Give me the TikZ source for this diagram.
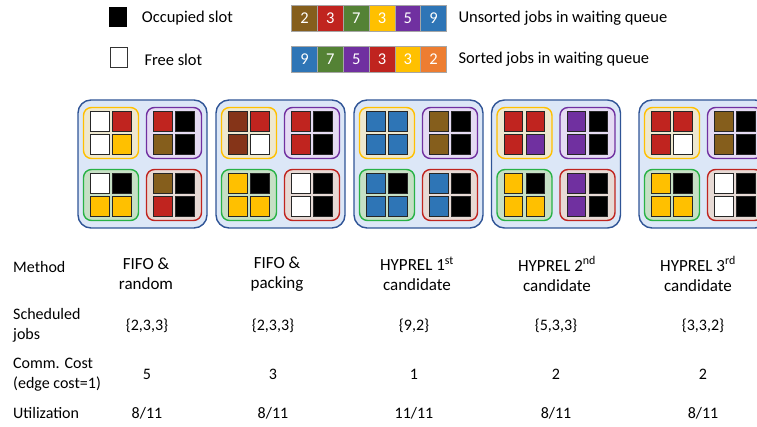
\documentclass[tikz,border=0pt]{standalone}
\usepackage{fontspec}
\setmainfont{Carlito}
\usetikzlibrary{positioning}

%% job colours
\definecolor{jobbrown}{RGB}{133,94,28}
\definecolor{jobrust}{RGB}{133,52,24}
\definecolor{jobred}{RGB}{192,36,31}
\definecolor{jobgreen}{RGB}{84,130,53}
\definecolor{jobyellow}{RGB}{255,192,0}
\definecolor{jobpurple}{RGB}{112,48,160}
\definecolor{jobblue}{RGB}{46,117,182}
\definecolor{joborange}{RGB}{237,125,49}
%% rack and server colours
\definecolor{rackline}{RGB}{47,84,150}
\definecolor{rackfill}{RGB}{220,231,247}
\definecolor{srvyellowfill}{RGB}{238,232,207}
\definecolor{srvpurplefill}{RGB}{229,219,243}
\definecolor{srvgreen}{RGB}{40,178,70}
\definecolor{srvgreenfill}{RGB}{198,224,197}
\definecolor{srvredfill}{RGB}{231,218,213}

\tikzset{
    rack/.style={draw=rackline,line width=1.4pt,fill=rackfill,rounded corners=13pt,
        minimum width=129pt,minimum height=128pt,inner sep=0pt},
    server/.style={line width=1.4pt,rounded corners=8pt,
        minimum width=55pt,minimum height=51pt,inner sep=0pt},
    ysrv/.style={server,draw=jobyellow,fill=srvyellowfill},
    psrv/.style={server,draw=jobpurple,fill=srvpurplefill},
    gsrv/.style={server,draw=srvgreen,fill=srvgreenfill},
    rsrv/.style={server,draw=jobred,fill=srvredfill},
    slotcell/.style={draw=black!85,line width=0.9pt,minimum width=18.5pt,
        minimum height=20pt,inner sep=0pt},
    qcell/.style={draw=black!35,line width=0.6pt,minimum width=25.8pt,
        minimum height=26.7pt,inner sep=0pt,text=white,font=\fontsize{16.5}{19}\selectfont},
    txt/.style={inner sep=0pt,font=\fontsize{16}{19.5}\selectfont},
    legtxt/.style={inner sep=0pt,anchor=west,font=\fontsize{16.5}{19.5}\selectfont},
    rowlabel/.style={txt,anchor=west,align=left},
    method/.style={inner sep=0pt,align=center,font=\fontsize{17}{20}\selectfont}
}

%% one server: name, centre, style, four slot colours
\newcommand\slotgroup[7]{%
    \node[#3] (#1) at (#2) {};
    \node[slotcell,fill=#4] (#1-1) at ([shift={(-10.9,-11.5)}]#1.center) {};
    \node[slotcell,fill=#5] (#1-2) at ([shift={(10.9,-11.5)}]#1.center) {};
    \node[slotcell,fill=#6] (#1-3) at ([shift={(-10.9,11.5)}]#1.center) {};
    \node[slotcell,fill=#7] (#1-4) at ([shift={(10.9,11.5)}]#1.center) {};
}
%% one rack of four servers, each a 2x2 group of slots
\newcommand\rack[2]{%
    \node[rack] (#1) at (#2,164) {};
    \coordinate (#1a) at ([shift={(-31.5,-31)}]#1.center);
    \coordinate (#1b) at ([shift={(31.5,-31)}]#1.center);
    \coordinate (#1c) at ([shift={(-31.5,31)}]#1.center);
    \coordinate (#1d) at ([shift={(31.5,31)}]#1.center);
}

\begin{document}
\begin{tikzpicture}[x=1pt,y=-1pt]
    \useasboundingbox (0,0) rectangle (757,427);
    \clip (0,0) rectangle (757,427);

    %% Legend
    \node[minimum width=18pt,minimum height=20pt,inner sep=0pt,fill=black] (occ) at (118,17.3) {};
    \node[minimum width=17pt,minimum height=20pt,inner sep=0pt,draw=black!80,line width=0.7pt] (free) at (118.5,57.7) {};
    \node[legtxt] (occtxt) at (141.7,18.3) {Occupied slot};
    \node[legtxt] (freetxt) at (144.3,60) {Free slot};

    %% Waiting queues
    \foreach \c/\n [count=\i] in {jobbrown/2,jobred/3,jobgreen/7,jobyellow/3,jobpurple/5,jobblue/9}
        \node[qcell,fill=\c] (u\i) at (278.8+25.8*\i,18.3) {\n};
    \foreach \c/\n [count=\i] in {jobblue/9,jobgreen/7,jobpurple/5,jobred/3,jobyellow/3,joborange/2}
        \node[qcell,fill=\c] (s\i) at (278.8+25.8*\i,59.3) {\n};
    \node[legtxt] (unsorted) at (458.3,18.3) {Unsorted jobs in waiting queue};
    \node[legtxt] (sorted) at (458.3,59.6) {Sorted jobs in waiting queue};

    %% Racks
    \rack{r1}{142.5}
    \slotgroup{r1y}{r1a}{ysrv}{white}{jobred}{white}{jobyellow}
    \slotgroup{r1p}{r1b}{psrv}{jobred}{black}{jobbrown}{black}
    \slotgroup{r1g}{r1c}{gsrv}{white}{black}{jobyellow}{jobyellow}
    \slotgroup{r1r}{r1d}{rsrv}{jobbrown}{black}{jobred}{black}

    \rack{r2}{280.5}
    \slotgroup{r2y}{r2a}{ysrv}{jobrust}{jobred}{jobrust}{white}
    \slotgroup{r2p}{r2b}{psrv}{jobred}{black}{jobred}{black}
    \slotgroup{r2g}{r2c}{gsrv}{jobyellow}{black}{jobyellow}{jobyellow}
    \slotgroup{r2r}{r2d}{rsrv}{white}{black}{white}{black}

    \rack{r3}{418.5}
    \slotgroup{r3y}{r3a}{ysrv}{jobblue}{jobblue}{jobblue}{jobblue}
    \slotgroup{r3p}{r3b}{psrv}{jobbrown}{black}{jobbrown}{black}
    \slotgroup{r3g}{r3c}{gsrv}{jobblue}{black}{jobblue}{jobblue}
    \slotgroup{r3r}{r3d}{rsrv}{jobblue}{black}{jobblue}{black}

    \rack{r4}{556}
    \slotgroup{r4y}{r4a}{ysrv}{jobred}{jobred}{jobred}{jobpurple}
    \slotgroup{r4p}{r4b}{psrv}{jobpurple}{black}{jobpurple}{black}
    \slotgroup{r4g}{r4c}{gsrv}{jobyellow}{black}{jobyellow}{jobyellow}
    \slotgroup{r4r}{r4d}{rsrv}{jobpurple}{black}{jobpurple}{black}

    \rack{r5}{703.5}
    \slotgroup{r5y}{r5a}{ysrv}{jobred}{jobred}{jobred}{white}
    \slotgroup{r5p}{r5b}{psrv}{jobbrown}{black}{jobbrown}{black}
    \slotgroup{r5g}{r5c}{gsrv}{jobyellow}{black}{jobyellow}{jobyellow}
    \slotgroup{r5r}{r5d}{rsrv}{white}{black}{white}{black}

    %% Table
    \node[rowlabel] (lmethod) at (13,267) {Method};
    \node[rowlabel] (lsched) at (13,325.5) {Scheduled\\jobs};
    \node[rowlabel] (lcomm) at (13,374.5) {Comm. Cost\\(edge cost=1)};
    \node[rowlabel] (lutil) at (13,413) {Utilization};

    \node[method] (m1) at (146,274) {FIFO \&\\random};
    \node[method] (m2) at (277,274) {FIFO \&\\packing};
    \node[method] (m3) at (417,274) {HYPREL 1\textsuperscript{st}\\candidate};
    \node[method] (m4) at (557,274) {HYPREL 2\textsuperscript{nd}\\candidate};
    \node[method] (m5) at (698,274) {HYPREL 3\textsuperscript{rd}\\candidate};

    \foreach \x/\s/\c/\u [count=\i] in {147/{\{2,3,3\}}/5/8\slash 11,273/{\{2,3,3\}}/3/8\slash 11,
            414/{\{9,2\}}/1/11\slash 11,556/{\{5,3,3\}}/2/8\slash 11,703/{\{3,3,2\}}/2/8\slash 11} {
        \node[txt] (sj\i) at (\x,326) {\s};
        \node[txt] (cc\i) at (\x,374.5) {\c};
        \node[txt] (ut\i) at (\x,413) {\u};
    }
\end{tikzpicture}
\end{document}
